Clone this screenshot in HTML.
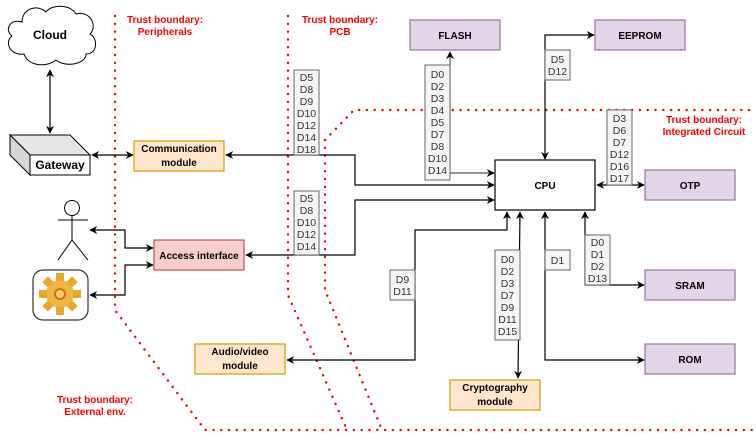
<!DOCTYPE html>
<html><head><meta charset="utf-8"><style>
html,body{margin:0;padding:0;background:#fff;}
svg{display:block;font-family:"Liberation Sans",sans-serif;}
.b{font-weight:bold;font-size:10px;text-anchor:middle;}
.r{fill:#ff0000;font-weight:bold;font-size:10px;text-anchor:middle;}
.l{font-size:10.5px;text-anchor:middle;fill:#333;}
.ln{stroke:#000;stroke-width:1.2;fill:none;}
.dot{stroke:#ff0000;stroke-width:2.4;fill:none;stroke-dasharray:0.1 7.7;stroke-linecap:round;}
.lb{fill:#f5f5f5;stroke:#666;stroke-width:1;}
.p{fill:#e1d5e7;stroke:#9673a6;stroke-width:1.2;}
.o{fill:#ffe6cc;stroke:#d79b00;stroke-width:1.2;}
</style></head><body>
<svg width="756" height="433" viewBox="0 0 756 433" xmlns="http://www.w3.org/2000/svg">
<defs>
<marker id="a" viewBox="0 0 10 10" refX="9" refY="5" markerWidth="8" markerHeight="8" orient="auto-start-reverse" markerUnits="userSpaceOnUse"><path d="M0,0 L10,5 L0,10 L3,5 z" fill="#000"/></marker>
</defs>
<path class="dot" d="M115,16 L115,310 L205,430 L756,430"/>
<path class="dot" d="M288,16 L288,295 L347,430"/>
<path class="dot" d="M325,140 L354,110 L756,110 M325,140 L325,290 L382,430"/>
<text class="r" x="165" y="23">Trust boundary:</text><text class="r" x="165" y="35">Peripherals</text>
<text class="r" x="340" y="23">Trust boundary:</text><text class="r" x="340" y="35">PCB</text>
<text class="r" x="704" y="123">Trust boundary:</text><text class="r" x="704" y="135">Integrated Circuit</text>
<text class="r" x="95" y="403">Trust boundary:</text><text class="r" x="95" y="415">External env.</text>
<path d="M22,22 C10,18 4,30 12,36 C4,42 10,56 24,54 C28,66 46,68 56,60 C66,68 86,64 86,54 C98,54 98,38 90,34 C98,26 90,10 76,14 C70,4 52,4 46,12 C38,4 22,8 22,22 z" fill="#fff" stroke="#000" stroke-width="1"/>
<text class="b" x="50" y="39" style="font-size:12px">Cloud</text>
<path class="ln" d="M50,70 L50,133" marker-start="url(#a)" marker-end="url(#a)"/>
<polygon points="10,135 70,135 90,155 30,155" fill="#e6e6e6" stroke="#000"/>
<polygon points="10,135 30,155 30,175 10,155" fill="#d6d6d6" stroke="#000"/>
<rect x="30" y="155" width="60" height="20" fill="#fff" stroke="#000"/>
<text class="b" x="60" y="169" style="font-size:12px">Gateway</text>
<path class="ln" d="M92,155 L133,155" marker-start="url(#a)" marker-end="url(#a)"/>
<rect class="o" x="134" y="141" width="90" height="30"/>
<text class="b" x="179" y="152">Communication</text><text class="b" x="179" y="166">module</text>
<path class="ln" d="M494,185 L355,185 L355,155 L226,155" marker-start="url(#a)" marker-end="url(#a)"/>
<rect x="154" y="240" width="90" height="30" fill="#f8cecc" stroke="#b85450" stroke-width="1.2"/>
<text class="b" x="199" y="259">Access interface</text>
<path class="ln" d="M494,200 L355,200 L355,255 L246,255" marker-start="url(#a)" marker-end="url(#a)"/>
<path class="ln" d="M153,248 L125,248 L125,230 L90,230" marker-start="url(#a)" marker-end="url(#a)"/>
<path class="ln" d="M153,265 L125,265 L125,295 L90,295" marker-start="url(#a)" marker-end="url(#a)"/>
<circle cx="72" cy="208" r="7.5" fill="#fff" stroke="#000"/>
<path d="M72,216 L72,240 M58,220 L88,220 M58,260 L72,240 L88,260" stroke="#000" fill="none"/>
<rect x="33" y="270" width="55" height="50" rx="10" fill="#fff" stroke="#333" stroke-width="1.2"/>
<g transform="translate(60,294)">
<circle r="14" fill="#f0b840"/>
<g fill="#e8a830"><rect x="-4" y="-21" width="8" height="8"/><rect x="-4" y="13" width="8" height="8"/><rect x="-21" y="-4" width="8" height="8"/><rect x="13" y="-4" width="8" height="8"/>
<rect x="-4" y="-21" width="8" height="8" transform="rotate(45)"/><rect x="-4" y="13" width="8" height="8" transform="rotate(45)"/><rect x="-21" y="-4" width="8" height="8" transform="rotate(45)"/><rect x="13" y="-4" width="8" height="8" transform="rotate(45)"/></g>
<circle r="6" fill="#c07810"/><circle r="4" fill="#f7d070"/>
</g>
<rect x="495" y="160" width="100" height="50" fill="#fff" stroke="#000" stroke-width="1.2"/>
<text class="b" x="545" y="189">CPU</text>
<rect class="p" x="410" y="20" width="90" height="30"/>
<text class="b" x="455" y="39">FLASH</text>
<path class="ln" d="M450,52 L450,173 L494,173" marker-start="url(#a)" marker-end="url(#a)" style="stroke:#555"/>
<rect class="p" x="595" y="20" width="90" height="30"/>
<text class="b" x="640" y="39">EEPROM</text>
<path class="ln" d="M545,159 L545,35 L594,35" marker-start="url(#a)" marker-end="url(#a)"/>
<rect class="p" x="645" y="170" width="90" height="30"/>
<text class="b" x="690" y="189">OTP</text>
<path class="ln" d="M597,185 L644,185" marker-start="url(#a)" marker-end="url(#a)"/>
<rect class="p" x="645" y="270" width="90" height="30"/>
<text class="b" x="690" y="289">SRAM</text>
<path class="ln" d="M585,212 L585,285 L644,285" marker-start="url(#a)" marker-end="url(#a)"/>
<rect class="p" x="645" y="344" width="90" height="30"/>
<text class="b" x="690" y="363">ROM</text>
<path class="ln" d="M545,212 L545,360 L644,360" marker-start="url(#a)" marker-end="url(#a)"/>
<rect class="o" x="450" y="380" width="90" height="30"/>
<text class="b" x="495" y="391">Cryptography</text><text class="b" x="495" y="405">module</text>
<path class="ln" d="M520,212 L518,378" marker-start="url(#a)" marker-end="url(#a)"/>
<rect class="o" x="195" y="344" width="90" height="30"/>
<text class="b" x="240" y="355">Audio/video</text><text class="b" x="240" y="369">module</text>
<path class="ln" d="M507,212 L507,230 L415,230 L415,360 L287,360" marker-start="url(#a)" marker-end="url(#a)"/>
<rect class="lb" x="294" y="70" width="25" height="85"/>
<text class="l"><tspan x="306.5" y="81">D5</tspan><tspan x="306.5" y="93">D8</tspan><tspan x="306.5" y="105">D9</tspan><tspan x="306.5" y="117">D10</tspan><tspan x="306.5" y="129">D12</tspan><tspan x="306.5" y="141">D14</tspan><tspan x="306.5" y="153">D18</tspan></text>
<rect class="lb" x="294" y="191" width="25" height="64"/>
<text class="l"><tspan x="306.5" y="202">D5</tspan><tspan x="306.5" y="214">D8</tspan><tspan x="306.5" y="226">D10</tspan><tspan x="306.5" y="238">D12</tspan><tspan x="306.5" y="250">D14</tspan></text>
<rect class="lb" x="425" y="65" width="25" height="115"/>
<text class="l"><tspan x="437.5" y="78">D0</tspan><tspan x="437.5" y="90">D2</tspan><tspan x="437.5" y="102">D3</tspan><tspan x="437.5" y="114">D4</tspan><tspan x="437.5" y="126">D5</tspan><tspan x="437.5" y="138">D7</tspan><tspan x="437.5" y="150">D8</tspan><tspan x="437.5" y="162">D10</tspan><tspan x="437.5" y="174">D14</tspan></text>
<rect class="lb" x="545" y="50" width="25" height="30"/>
<text class="l"><tspan x="557.5" y="63">D5</tspan><tspan x="557.5" y="75">D12</tspan></text>
<rect class="lb" x="607" y="110" width="25" height="75"/>
<text class="l"><tspan x="619.5" y="122">D3</tspan><tspan x="619.5" y="134">D6</tspan><tspan x="619.5" y="146">D7</tspan><tspan x="619.5" y="158">D12</tspan><tspan x="619.5" y="170">D16</tspan><tspan x="619.5" y="182">D17</tspan></text>
<rect class="lb" x="585" y="235" width="25" height="50"/>
<text class="l"><tspan x="597.5" y="246">D0</tspan><tspan x="597.5" y="258">D1</tspan><tspan x="597.5" y="270">D2</tspan><tspan x="597.5" y="282">D13</tspan></text>
<rect class="lb" x="545" y="250" width="25" height="20"/>
<text class="l" x="557.5" y="264">D1</text>
<rect class="lb" x="495" y="250" width="25" height="90"/>
<text class="l"><tspan x="507.5" y="263">D0</tspan><tspan x="507.5" y="275">D2</tspan><tspan x="507.5" y="287">D3</tspan><tspan x="507.5" y="299">D7</tspan><tspan x="507.5" y="311">D9</tspan><tspan x="507.5" y="323">D11</tspan><tspan x="507.5" y="335">D15</tspan></text>
<rect class="lb" x="390" y="270" width="25" height="30"/>
<text class="l"><tspan x="402.5" y="283">D9</tspan><tspan x="402.5" y="295">D11</tspan></text>
</svg>
</body></html>
